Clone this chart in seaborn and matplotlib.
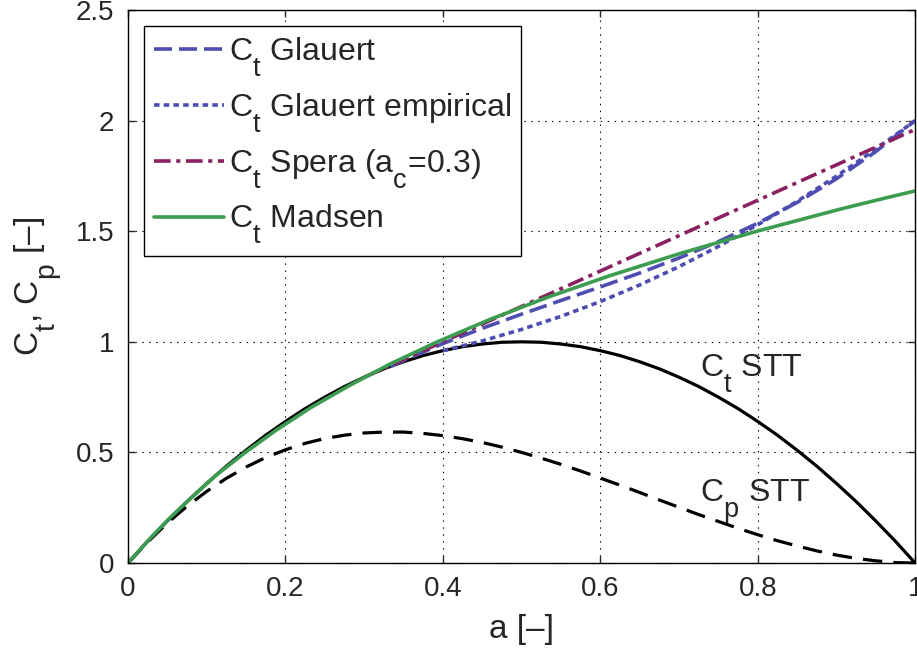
import pandas as pd
import seaborn as sns
import matplotlib
matplotlib.use('Agg')
import matplotlib.pyplot as plt
import matplotlib._mathtext as mt

# induction factor grid and simple momentum theory
a_stt = [0.0, 0.025, 0.05, 0.075, 0.1, 0.125, 0.15, 0.175, 0.2, 0.225, 0.25,
         0.275, 0.3, 0.325, 0.35, 0.375, 0.4, 0.425, 0.45, 0.475, 0.5,
         0.525, 0.55, 0.575, 0.6, 0.625, 0.65, 0.675, 0.7, 0.725, 0.75,
         0.775, 0.8, 0.825, 0.85, 0.875, 0.9, 0.925, 0.95, 0.975, 1.0]
ct_stt = [0.0, 0.098, 0.19, 0.278, 0.36, 0.438, 0.51, 0.578, 0.64, 0.698, 0.75,
          0.798, 0.84, 0.878, 0.91, 0.938, 0.96, 0.978, 0.99, 0.998, 1.0,
          0.998, 0.99, 0.978, 0.96, 0.938, 0.91, 0.878, 0.84, 0.798, 0.75,
          0.698, 0.64, 0.578, 0.51, 0.438, 0.36, 0.278, 0.19, 0.098, 0.0]
cp_stt = [0.0, 0.095, 0.181, 0.257, 0.324, 0.383, 0.434, 0.477, 0.512, 0.541, 0.563,
          0.578, 0.588, 0.592, 0.592, 0.586, 0.576, 0.562, 0.545, 0.524, 0.5,
          0.474, 0.446, 0.416, 0.384, 0.352, 0.319, 0.285, 0.252, 0.219, 0.188,
          0.157, 0.128, 0.101, 0.077, 0.055, 0.036, 0.021, 0.01, 0.002, 0.0]

# Glauert correction
a_glauert = [0.333, 0.4, 0.45, 0.5, 0.55, 0.6, 0.65, 0.7, 0.75, 0.8, 0.85, 0.9, 0.95, 1.0]
ct_glauert = [0.889, 0.992, 1.061, 1.125, 1.187, 1.248, 1.311, 1.379, 1.453, 1.536,
              1.63, 1.737, 1.86, 2.0]

# Glauert empirical
a_emp = [0.4, 0.45, 0.5, 0.55, 0.6, 0.65, 0.7, 0.75, 0.8, 0.85, 0.9, 0.95, 1.0]
ct_emp = [0.96, 1.004, 1.056, 1.115, 1.182, 1.257, 1.34, 1.431, 1.529, 1.635, 1.749, 1.871, 2.0]

# Spera, a_c = 0.3
a_spera = [0.3, 0.5, 0.7, 1.0]
ct_spera = [0.84, 1.16, 1.48, 1.96]

# Madsen
a_madsen = [0.0, 0.025, 0.052, 0.082, 0.113, 0.149, 0.188, 0.231, 0.28, 0.333, 0.393,
            0.459, 0.532, 0.613, 0.702, 0.799, 0.905, 0.962, 1.0]
ct_madsen = [0.0, 0.1, 0.2, 0.3, 0.4, 0.5, 0.6, 0.7, 0.8, 0.9, 1.0,
             1.1, 1.2, 1.3, 1.4, 1.5, 1.6, 1.65, 1.682]

# bigger, lower subscripts like the original
try:
    mt.SHRINK_FACTOR = 0.85
    mt.FontConstantsBase.sub1 = 0.95
    mt.FontConstantsBase.sub2 = 1.0
except Exception:
    pass

sns.set_style('ticks')
plt.rcParams['font.family'] = ['Liberation Sans', 'DejaVu Sans']
plt.rcParams['mathtext.fontset'] = 'custom'
plt.rcParams['mathtext.rm'] = 'Liberation Sans'
plt.rcParams['lines.scale_dashes'] = False

fig = plt.figure(figsize=(9.17, 6.5), dpi=100)
ax = fig.add_axes([0.1396, 0.1338, 0.8584, 0.8508])

sns.lineplot(x=a_stt, y=ct_stt, ax=ax, color='black', lw=2.3)
sns.lineplot(x=a_stt, y=cp_stt, ax=ax, color='black', lw=2.3,
             linestyle=(0, (14, 8)))
sns.lineplot(x=a_glauert, y=ct_glauert, ax=ax, color='#4e4eb2', lw=2.6,
             linestyle=(0, (13, 5)), label=r'$\mathregular{C_t}$ Glauert')
sns.lineplot(x=a_emp, y=ct_emp, ax=ax, color='#4e4eb2', lw=2.6,
             linestyle=(0, (4, 3)), label=r'$\mathregular{C_t}$ Glauert empirical')
sns.lineplot(x=a_spera, y=ct_spera, ax=ax, color='#8a2262', lw=2.6,
             linestyle=(0, (12, 4, 3, 4)), label=r'$\mathregular{C_t}$ Spera ($\mathregular{a_c}$=0.3)')
sns.lineplot(x=a_madsen, y=ct_madsen, ax=ax, color='#3c9c50', lw=2.6,
             label=r'$\mathregular{C_t}$ Madsen')

ax.text(0.727, 0.84, r'$\mathregular{C_t}$ STT', fontsize=23)
ax.text(0.727, 0.276, r'$\mathregular{C_p}$ STT', fontsize=23)

ax.set_xlim(0, 1)
ax.set_ylim(0, 2.5)
ax.set_xticks([0, 0.2, 0.4, 0.6, 0.8, 1])
ax.set_xticklabels(['0', '0.2', '0.4', '0.6', '0.8', '1'])
ax.set_yticks([0, 0.5, 1, 1.5, 2, 2.5])
ax.set_yticklabels(['0', '0.5', '1', '1.5', '2', '2.5'])
ax.tick_params(direction='in', top=True, right=True, labelsize=20, length=5, width=1)
ax.tick_params(axis='x', pad=9)
ax.tick_params(axis='y', pad=10)
ax.grid(True, color='black', linestyle=(0, (1, 4)), linewidth=0.8)
for s in ax.spines.values():
    s.set_color('black')
    s.set_linewidth(1)
ax.set_xlabel('a [–]', fontsize=24, labelpad=9)
ax.set_ylabel(r'$\mathregular{C_t}$, $\mathregular{C_p}$ [–]', fontsize=24, labelpad=8)

leg = ax.legend(loc='upper left', fontsize=23, frameon=True, fancybox=False,
                edgecolor='black', framealpha=1, handlelength=2.2, handletextpad=0.15,
                labelspacing=0.4, borderaxespad=0.5, borderpad=0.3)
leg.get_frame().set_linewidth(1)

fig.savefig('out.png', dpi=100)
